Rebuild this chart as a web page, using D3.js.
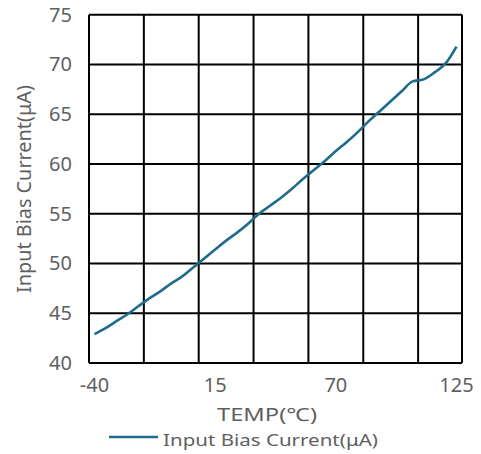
<!DOCTYPE html>
<html>
<head>
<meta charset="utf-8">
<script src="https://cdn.jsdelivr.net/npm/d3@7"></script>
<style>
  body { margin: 0; background: #fff; }
  text { font-family: "Noto Sans", "Open Sans", sans-serif; fill: #5f5f5f; }
</style>
</head>
<body>
<div id="grafico"></div>
<script>
// Datos
const temps = [-40, -35, -30, -25, -20, -15, -10, -5, 0, 5, 10, 15, 20, 25, 30, 35, 40,
  45, 50, 55, 60, 65, 70, 75, 80, 85, 90, 95, 100, 105, 110, 115, 120, 125];
const corriente = [42.9, 43.5, 44.2, 44.9, 45.7, 46.5, 47.2, 48.0, 48.7, 49.6, 50.5, 51.4,
  52.3, 53.1, 54.0, 55.0, 55.8, 56.6, 57.5, 58.5, 59.4, 60.3, 61.3, 62.2, 63.2, 64.3,
  65.3, 66.3, 67.3, 68.3, 68.5, 69.2, 70.1, 71.8];
const xTicks = [-40, 15, 70, 125];
const yTicks = [40, 45, 50, 55, 60, 65, 70, 75];
const nombreSerie = "Input Bias Current(μA)";

const WIDTH = 481, HEIGHT = 454;
const margin = { left: 89, top: 14.7, right: 19, bottom: 91 };
const w = WIDTH - margin.left - margin.right;
const h = HEIGHT - margin.top - margin.bottom;

var svg = d3.select("#grafico").append("svg")
  .attr("width", WIDTH).attr("height", HEIGHT);
var g = svg.append("g").attr("transform", `translate(${margin.left},${margin.top})`);

// eje de categorias, como en excel
var x = d3.scaleBand().domain(temps).range([0, w]);
var y = d3.scaleLinear().domain([40, 75]).range([h, 0]);

// rejilla horizontal
g.selectAll(".hgrid").data(yTicks).enter().append("line")
  .attr("x1", 0).attr("x2", w)
  .attr("y1", d => y(d)).attr("y2", d => y(d))
  .style("stroke", "#000").style("stroke-width", 2);

// rejilla vertical cada 5 categorias
var vlines = temps.filter((d, i) => i % 5 == 0);
g.selectAll(".vgrid").data(vlines).enter().append("line")
  .attr("x1", d => x(d)).attr("x2", d => x(d))
  .attr("y1", 0).attr("y2", h)
  .style("stroke", "#000").style("stroke-width", 2);
g.append("line").attr("x1", w).attr("x2", w).attr("y1", 0).attr("y2", h)
  .style("stroke", "#000").style("stroke-width", 2);

// etiquetas eje y
g.selectAll(".ylab").data(yTicks).enter().append("text")
  .attr("x", -17).attr("y", d => y(d)).attr("dy", "0.35em")
  .attr("text-anchor", "end").style("font-size", "20px")
  .text(d => d);

// etiquetas eje x
g.selectAll(".xlab").data(xTicks).enter().append("text")
  .attr("x", d => x(d) + x.bandwidth() / 2).attr("y", h + 29)
  .attr("text-anchor", "middle").style("font-size", "20px")
  .text(d => d);

// linea
var linea = d3.line()
  .x((d, i) => x(temps[i]) + x.bandwidth() / 2)
  .y(d => y(d))
  .curve(d3.curveMonotoneX);
g.append("path").datum(corriente)
  .attr("d", linea)
  .style("fill", "none").style("stroke", "#1f6b8c").style("stroke-width", 2.6);

// titulos
svg.append("text").attr("x", 267).attr("y", 421)
  .attr("text-anchor", "middle").style("font-size", "18px")
  .attr("textLength", 100).attr("lengthAdjust", "spacingAndGlyphs").text("TEMP(℃)");
svg.append("text")
  .attr("transform", `translate(31,189) rotate(-90)`)
  .attr("text-anchor", "middle").style("font-size", "19px")
  .attr("textLength", 208).attr("lengthAdjust", "spacingAndGlyphs").text(nombreSerie);

// leyenda
svg.append("line").attr("x1", 109).attr("x2", 158).attr("y1", 437).attr("y2", 437)
  .style("stroke", "#1f6b8c").style("stroke-width", 2.6);
svg.append("text").attr("x", 163).attr("y", 446).style("font-size", "17px")
  .attr("textLength", 215).attr("lengthAdjust", "spacingAndGlyphs").text(nombreSerie);
</script>
</body>
</html>
